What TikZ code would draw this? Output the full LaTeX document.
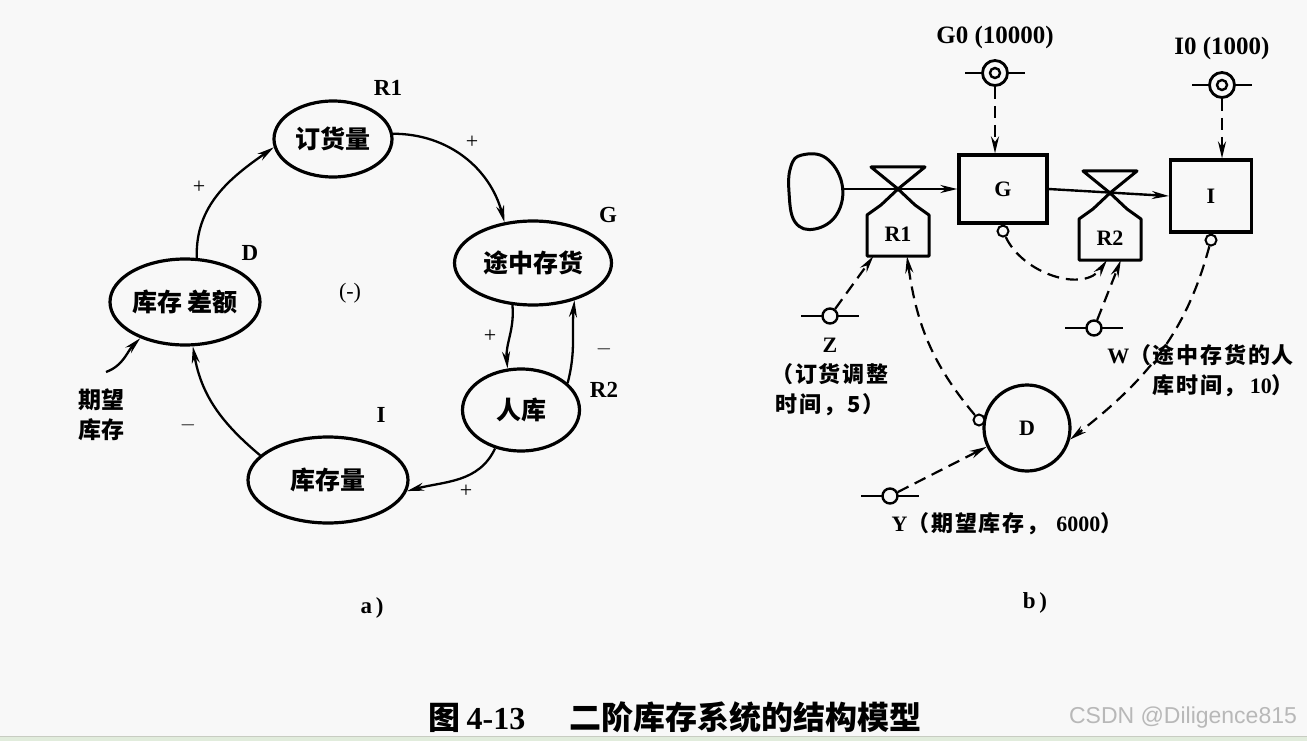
\documentclass[tikz,border=0pt]{standalone}
\usepackage{fontspec}
\setmainfont{Liberation Serif}
\newfontfamily\cjk{Noto Sans CJK SC}
\newfontfamily\cjkwide{Noto Sans CJK SC}[LetterSpace=8]
\newfontfamily\wmfont{Liberation Sans}
\usepackage{tikz}
\usetikzlibrary{arrows.meta,positioning,calc,shapes}

\definecolor{paper}{HTML}{F8F8F8}
\definecolor{stripgreen}{HTML}{E1ECDC}
\definecolor{stripline}{HTML}{C8CCC2}

\tikzset{
  bubble/.style={ellipse, draw, line width=3.2pt, inner sep=0pt, font=\cjk\bfseries\fontsize{25}{28}\selectfont},
  link/.style={line width=2.3pt, -{Stealth[length=17pt,width=8pt]}},
  info/.style={line width=2.2pt, dash pattern=on 12pt off 7pt, -{Stealth[length=17pt,width=8pt]}},
  tag/.style={font=\bfseries\fontsize{23}{25}\selectfont},
  sgn/.style={font=\fontsize{22}{24}\selectfont},
  note/.style={font=\cjkwide\bfseries\fontsize{22}{30}\selectfont, align=center, inner sep=0pt},
  level/.style={rectangle, draw, line width=3.2pt, inner sep=0pt, font=\bfseries\fontsize{22}{24}\selectfont},
  tap/.style={circle, draw, fill=paper, line width=2pt, minimum size=11pt, inner sep=0pt},
  pics/valve/.style={code={
    \draw[line width=3pt, line join=round] (-27,22) -- (27,22) -- (0,0) -- cycle;
    \draw[line width=3pt, line join=round] (0,0) -- (-17,-16) -- (-31,-26) -- (-31,-67)
      -- (31,-67) -- (31,-26) -- (17,-16) -- cycle;
    \node[inner sep=0pt, minimum width=62pt, minimum height=44pt,
      font=\bfseries\fontsize{22}{24}\selectfont] (-body) at (0,-45) {#1};
  }},
  pics/param/.style={code={
    \draw[line width=2.6pt] (-29,0) -- (29,0);
    \node[circle, draw, fill=paper, line width=2.4pt, minimum size=15pt, inner sep=0pt] (-c) at (0,0) {};
  }},
  pics/initval/.style={code={
    \draw[line width=2.6pt] (-30,0) -- (30,0);
    \node[circle, draw, fill=paper, line width=2.8pt, minimum size=25pt, inner sep=0pt] (-c) at (0,0) {};
    \draw[line width=2.4pt] (0,0) circle (5pt);
  }},
}

\begin{document}
\begin{tikzpicture}[x=1pt, y=1pt]
  \fill[paper] (0,0) rectangle (1307,-741);
  \useasboundingbox (0,0) rectangle (1307,-741);
  \fill[stripgreen] (0,-736) rectangle (1307,-741);
  \draw[stripline, line width=1pt] (0,-736) -- (1307,-736);

  % a) causal loop
  \node[bubble, minimum width=118pt, minimum height=76pt] (order) at (333,-139) {订货量};
  \node[bubble, minimum width=157pt, minimum height=84pt] (transit) at (533,-263) {途中存货};
  \node[bubble, minimum width=150pt, minimum height=86pt] (gap) at (185,-302) {库存\,差额};
  \node[bubble, minimum width=117pt, minimum height=82pt] (inflow) at (521,-410) {人库};
  \node[bubble, minimum width=160pt, minimum height=86pt] (stock) at (328,-480) {库存量};

  \node[tag] (tR1) at (388,-88) {R1};
  \node[tag] (tG) at (608,-215) {G};
  \node[tag] (tD) at (250,-253) {D};
  \node[tag] (tR2) at (604,-390) {R2};
  \node[tag] (tI) at (381,-415) {I};
  \node[sgn] (loopsign) at (350,-293) {(-)};

  \node[sgn] (s1) at (472,-142) {+};
  \node[sgn] (s2) at (199,-187) {+};
  \node[sgn] (s3) at (490,-336) {+};
  \node[sgn] (s4) at (604,-349) {$-$};
  \node[sgn] (s5) at (188,-425) {$-$};
  \node[sgn] (s6) at (466,-491) {+};

  \node[note, font=\cjk\bfseries\fontsize{23}{30}\selectfont] (want) at (101,-415) {期望\\库存};
  \coordinate (wantTip) at (106,-372);

  \draw[link] (gap.75) to[out=92, in=215] (order.188);
  \draw[link] (order.5) to[out=0, in=105] (transit.125);
  \draw[link] (transit.244) to[out=-85, in=95] (inflow.108);
  \draw[link] (inflow.30) to[out=75, in=-95] (transit.318);
  \draw[link] (inflow.236) to[out=-115, in=15] (stock.-8);
  \draw[link] (stock.160) to[out=140, in=-80] (gap.280);
  \draw[link] (wantTip) to[out=20, in=225] (gap.219);

  \node[tag] (capa) at (372,-608) {a\,)};

  % b) flow diagram
  \draw[line width=3pt] plot[smooth cycle, tension=0.7] coordinates
    {(802,-155) (826,-158) (842,-184) (837,-214) (815,-229) (795,-222) (789,-192) (791,-166)};
  \coordinate (cloud) at (843,-189);

  \node[level, minimum width=88pt, minimum height=68pt] (G) at (1003,-189) {G};
  \node[level, minimum width=81pt, minimum height=72pt] (I) at (1211,-196) {I};

  \pic (r1) at (898,-189) {valve=R1};
  \pic (r2) at (1110,-193) {valve=R2};

  \draw[line width=2.4pt, -{Stealth[length=17pt,width=8pt]}] (cloud) -- (G.west);
  \draw[line width=2.4pt, -{Stealth[length=17pt,width=8pt]}] (G.east) -- (I.west);

  \pic (g0) at (995,-73) {initval};
  \pic (i0) at (1222,-85) {initval};
  \node[tag, font=\bfseries\fontsize{25}{27}\selectfont] (g0lab) at (995,-37) {G0 (10000)};
  \node[tag, font=\bfseries\fontsize{25}{27}\selectfont] (i0lab) at (1222,-48) {I0 (1000)};

  \draw[info] (g0-c.south) -- (g0-c.south |- G.north);
  \draw[info] (i0-c.south) -- (i0-c.south |- I.north);

  \node[circle, draw, line width=3.2pt, minimum size=86pt, inner sep=0pt,
    font=\bfseries\fontsize{22}{24}\selectfont] (D) at (1027,-428) {D};

  \node[tap, below=0pt of G] (gTap) {};
  \node[tap, below=0pt of I] (iTap) {};
  \node[tap] (dTap) at (979,-420) {};

  \pic (z) at (830,-316) {param};
  \pic (w) at (1094,-328) {param};
  \pic (y) at (890,-496) {param};

  \draw[info] (gTap) to[out=-65, in=235] (r2-body.262);
  \draw[info] (w-c) -- (r2-body.296);
  \draw[info] (z-c) -- (r1-body.222);
  \draw[info] (dTap) to[out=130, in=-82] (r1-body.292);
  \draw[info] (iTap) to[out=-105, in=38] (D.-15);
  \draw[info] (y-c) -- (D.205);

  \node[note] (zlab) at (830,-377) {\normalfont\bfseries Z\\（订货调整\\时间，5）};
  \node[note, align=right, anchor=east] (wlab) at (1294,-371) {\normalfont\bfseries W\cjkwide（途中存货的人\\库时间，\hspace{4pt}{\normalfont\bfseries 10}）};
  \node[note] (ylab) at (1007,-524) {\normalfont\bfseries Y\cjkwide（期望库存，\hspace{8pt}{\normalfont\bfseries 6000}）};

  \node[tag] (capb) at (1035,-603) {b\,)};

  % caption
  \node[font=\cjk\bfseries\fontsize{32}{34}\selectfont] (caption) at (675,-717)
    {图\hspace{6pt}{\normalfont\bfseries 4-13}\hspace{44pt}二阶库存系统的结构模型};
  \node[font=\wmfont\fontsize{23}{25}\selectfont, text=black!28] (mark) at (1183,-718) {CSDN @Diligence815};
\end{tikzpicture}
\end{document}
